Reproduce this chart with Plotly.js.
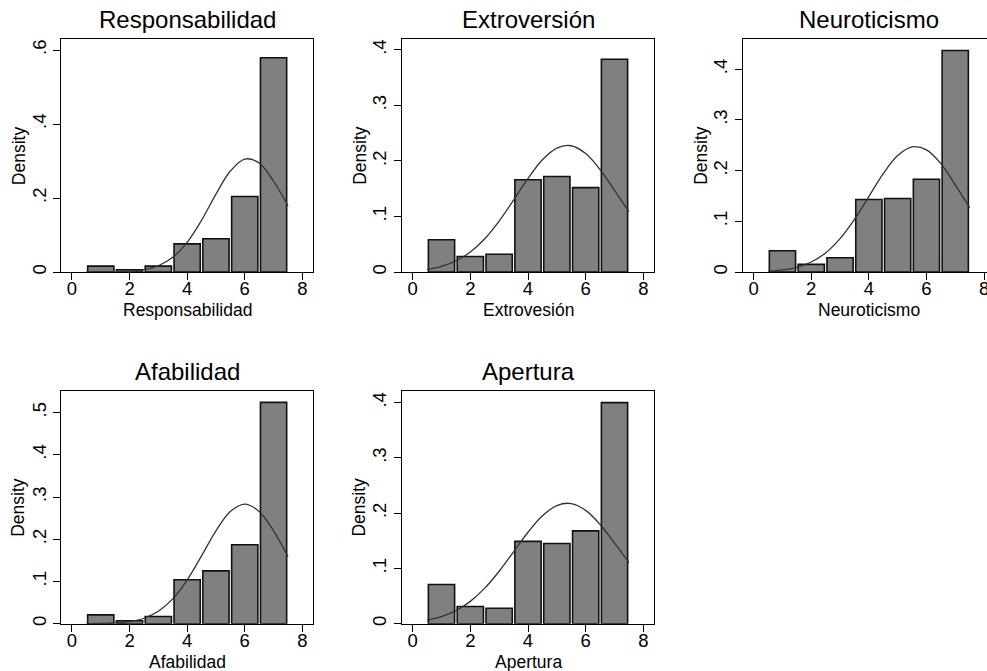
<!DOCTYPE html>
<html>
<head>
<meta charset="utf-8">
<script src="https://cdn.plot.ly/plotly-3.0.1.min.js"></script>
<style>
html, body { margin: 0; padding: 0; overflow: hidden; background: #fff; }
#chart { width: 1000px; height: 671px; }
</style>
</head>
<body>
<div id="chart"></div>
<script>
// ---- data ----
const panelTitles = ["Responsabilidad", "Extroversión", "Neuroticismo", "Afabilidad", "Apertura"];
const xAxisTitles = ["Responsabilidad", "Extrovesión", "Neuroticismo", "Afabilidad", "Apertura"];
const yAxisTitle = "Density";
const binCenters = [1, 2, 3, 4, 5, 6, 7];

const densResponsabilidad = [0.016, 0.006, 0.016, 0.076, 0.090, 0.204, 0.579];
const densExtroversion    = [0.058, 0.028, 0.032, 0.166, 0.172, 0.152, 0.383];
const densNeuroticismo    = [0.042, 0.015, 0.028, 0.143, 0.145, 0.183, 0.437];
const densAfabilidad      = [0.021, 0.007, 0.017, 0.104, 0.125, 0.187, 0.524];
const densApertura        = [0.071, 0.031, 0.028, 0.149, 0.145, 0.168, 0.400];

// normal-density overlay, points
const curveX = [0.5, 1.0, 1.5, 2.0, 2.5, 3.0, 3.5, 4.0, 4.5, 5.0, 5.5, 6.0, 6.5, 7.0, 7.5];
const curveResponsabilidad = [0.0000, 0.0001, 0.0005, 0.0020, 0.0062, 0.0169, 0.0397, 0.0802, 0.1399, 0.2104, 0.2729, 0.3054, 0.2947, 0.2453, 0.1790];
const curveExtroversion    = [0.0048, 0.0102, 0.0200, 0.0361, 0.0600, 0.0918, 0.1296, 0.1686, 0.2021, 0.2232, 0.2273, 0.2132, 0.1844, 0.1470, 0.1085];
const curveNeuroticismo    = [0.0016, 0.0040, 0.0093, 0.0197, 0.0377, 0.0657, 0.1037, 0.1488, 0.1941, 0.2296, 0.2469, 0.2410, 0.2137, 0.1720, 0.1270];
const curveAfabilidad      = [0.0001, 0.0005, 0.0017, 0.0050, 0.0129, 0.0294, 0.0587, 0.1034, 0.1606, 0.2200, 0.2658, 0.2831, 0.2658, 0.2200, 0.1590];
const curveApertura        = [0.0064, 0.0128, 0.0236, 0.0404, 0.0643, 0.0949, 0.1301, 0.1654, 0.1952, 0.2138, 0.2174, 0.2050, 0.1795, 0.1459, 0.1110];

const xTickVals = [0, 2, 4, 6, 8];
const xTickText = ["0", "2", "4", "6", "8"];
const yTickVals1 = [0, 0.2, 0.4, 0.6];
const yTickText1 = ["0", ".2", ".4", ".6"];
const yTickVals4 = [0, 0.1, 0.2, 0.3, 0.4];
const yTickText4 = ["0", ".1", ".2", ".3", ".4"];
const yTickVals5 = [0, 0.1, 0.2, 0.3, 0.4, 0.5];
const yTickText5 = ["0", ".1", ".2", ".3", ".4", ".5"];

const yTopValues = [0.629, 0.419, 0.459, 0.551, 0.421];

// ---- build ----
const dens = [densResponsabilidad, densExtroversion, densNeuroticismo, densAfabilidad, densApertura];
const curves = [curveResponsabilidad, curveExtroversion, curveNeuroticismo, curveAfabilidad, curveApertura];
const yTicks = [[yTickVals1, yTickText1], [yTickVals4, yTickText4], [yTickVals4, yTickText4], [yTickVals5, yTickText5], [yTickVals4, yTickText4]];

const W = 1000, H = 671;
// plot frames in px: [left, right, top, bottom]
const frames = [
  [61, 313.3, 39.3, 272],
  [401.7, 654.3, 39.3, 272],
  [742.7, 995.0, 39.3, 272],
  [61, 313.3, 391, 623.7],
  [401.7, 654.3, 391, 623.7]
];

const FONT = "Liberation Sans, Arial, Helvetica, sans-serif";
const TICKSIZE = 18.5, AXTITLESIZE = 17.5, TITLESIZE = 24;
const traces = [];
const layout = {
  width: W, height: H, autosize: false,
  margin: {l: 0, r: 0, t: 0, b: 0, pad: 0},
  paper_bgcolor: "#fff", plot_bgcolor: "#fff",
  showlegend: false,
  bargap: 0.09,
  font: {family: FONT, color: "#000", size: 17},
  annotations: []
};

for (let i = 0; i < 5; i++) {
  const n = i + 1;
  const xa = "x" + (n === 1 ? "" : n), ya = "y" + (n === 1 ? "" : n);
  traces.push({
    type: "bar", x: binCenters, y: dens[i], xaxis: xa, yaxis: ya,
    marker: {color: "#808080", line: {color: "#111", width: 1.6}},
    hoverinfo: "x+y"
  });
  traces.push({
    type: "scatter", mode: "lines", x: curveX, y: curves[i], xaxis: xa, yaxis: ya,
    line: {color: "#333", width: 1.3, shape: "spline"},
    hoverinfo: "x+y"
  });
  const f = frames[i];
  const xd = [f[0] / W, f[1] / W];
  const yd = [1 - f[3] / H, 1 - f[2] / H];
  layout["xaxis" + (n === 1 ? "" : n)] = {
    domain: xd, anchor: ya, range: [-0.38, 8.38],
    tickvals: xTickVals, ticktext: xTickText,
    ticks: "outside", ticklen: 7, tickwidth: 1, tickcolor: "#000",
    ticklabelstandoff: -7,
    showline: true, linecolor: "#000", linewidth: 1, mirror: true,
    showgrid: false, zeroline: false,
    tickfont: {size: TICKSIZE, family: FONT, color: "#000"}
  };
  layout["yaxis" + (n === 1 ? "" : n)] = {
    domain: yd, anchor: xa, range: [0, yTopValues[i]],
    tickvals: yTicks[i][0], ticktext: yTicks[i][1], tickangle: -90,
    ticks: "outside", ticklen: 7, tickwidth: 1, tickcolor: "#000",
    showline: true, linecolor: "#000", linewidth: 1, mirror: true,
    showgrid: false, zeroline: false,
    tickfont: {size: TICKSIZE, family: FONT, color: "#000"}
  };
  // panel title
  layout.annotations.push({
    text: panelTitles[i], xref: "paper", yref: "paper",
    x: (xd[0] + xd[1]) / 2, y: yd[1], xanchor: "center", yanchor: "bottom",
    yshift: 4, showarrow: false,
    font: {size: TITLESIZE, family: FONT, color: "#000", weight: "normal"}
  });
  // x axis title
  layout.annotations.push({
    text: xAxisTitles[i], xref: "paper", yref: "paper",
    x: (xd[0] + xd[1]) / 2, y: yd[0], xanchor: "center", yanchor: "top",
    yshift: -26, showarrow: false,
    font: {size: AXTITLESIZE, family: FONT, color: "#000"}
  });
  // y axis title
  layout.annotations.push({
    text: yAxisTitle, xref: "paper", yref: "paper", textangle: -90,
    x: xd[0], y: (yd[0] + yd[1]) / 2, xanchor: "center", yanchor: "middle",
    xshift: -42.5, showarrow: false,
    font: {size: AXTITLESIZE, family: FONT, color: "#000"}
  });
}

Plotly.newPlot("chart", traces, layout, {displayModeBar: false});
</script>
</body>
</html>
